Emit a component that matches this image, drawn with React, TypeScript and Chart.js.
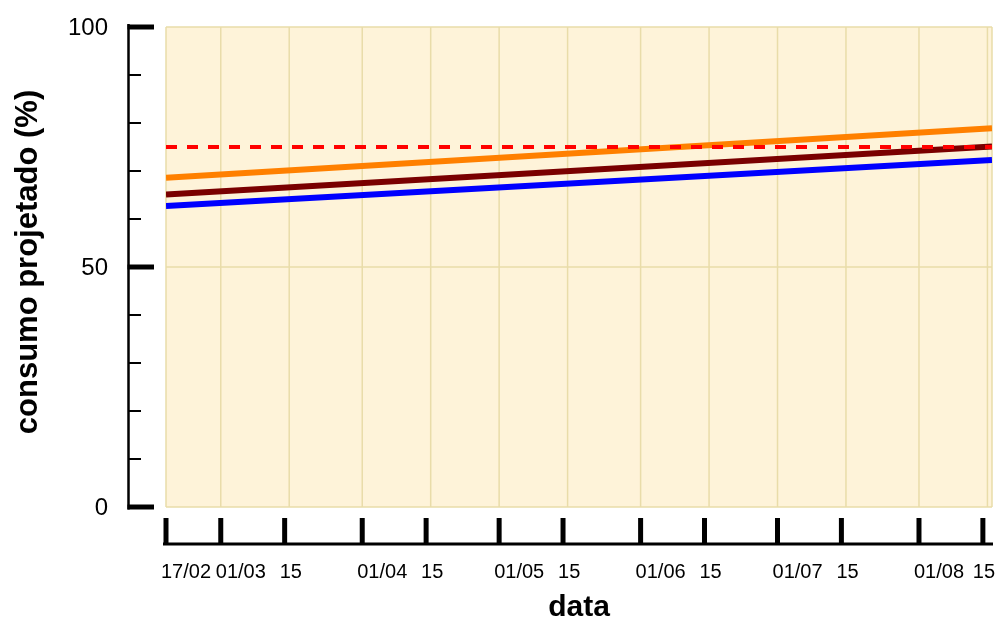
import React, { useEffect, useRef } from "react";
import { Chart, registerables } from "chart.js";

Chart.register(...registerables);

// Days counted from 17/02
const tickDays = [0, 12, 26, 43, 57, 73, 87, 104, 118, 134, 148, 165, 179];
const tickLabels = ["17/02", "01/03", "15", "01/04", "15", "01/05", "15", "01/06", "15", "01/07", "15", "01/08", "15"];
const gridDays = [0, 12, 27, 43, 58, 73, 88, 104, 119, 134, 149, 165, 180, 181];
const xMin = 0;
const xMax = 181;

const yMajor = [0, 50, 100];
const yMinor = [10, 20, 30, 40, 60, 70, 80, 90];

const lineDays = [0, 181];
const orangeValues = [68.6, 78.9];
const maroonValues = [65.1, 75.1];
const blueValues = [62.7, 72.3];
const limitValues = [75, 75];

const FONT = "'Liberation Sans', Arial, Helvetica, sans-serif";

const pts = (vals: number[]) => vals.map((v, i) => ({ x: lineDays[i], y: v }));

const customAxes = {
  id: "customAxes",
  beforeDatasetsDraw(chart: any) {
    const { ctx, chartArea: a, scales } = chart;
    const xs = scales.x;
    const ys = scales.y;
    ctx.save();
    ctx.fillStyle = "#fef3d9";
    ctx.fillRect(a.left, a.top, a.right - a.left, a.bottom - a.top);
    ctx.strokeStyle = "#e9dca9";
    ctx.lineWidth = 1.5;
    for (const d of gridDays) {
      const x = xs.getPixelForValue(d);
      ctx.beginPath();
      ctx.moveTo(x, a.top);
      ctx.lineTo(x, a.bottom);
      ctx.stroke();
    }
    for (const v of yMajor) {
      const y = ys.getPixelForValue(v);
      ctx.beginPath();
      ctx.moveTo(a.left, y);
      ctx.lineTo(a.right, y);
      ctx.stroke();
    }
    ctx.restore();
  },
  afterDraw(chart: any) {
    const { ctx, chartArea: a, scales } = chart;
    const xs = scales.x;
    const ys = scales.y;
    ctx.save();
    ctx.strokeStyle = "#000";
    ctx.fillStyle = "#000";
    // Y axis
    const axX = 128.5;
    const yTop = ys.getPixelForValue(100);
    const yBot = ys.getPixelForValue(0);
    ctx.lineWidth = 2.5;
    ctx.beginPath();
    ctx.moveTo(axX, yTop - 3);
    ctx.lineTo(axX, yBot + 2.5);
    ctx.stroke();
    ctx.lineWidth = 5;
    for (const v of yMajor) {
      const y = ys.getPixelForValue(v);
      ctx.beginPath();
      ctx.moveTo(axX - 1, y);
      ctx.lineTo(154, y);
      ctx.stroke();
    }
    ctx.lineWidth = 2;
    for (const v of yMinor) {
      const y = ys.getPixelForValue(v);
      ctx.beginPath();
      ctx.moveTo(axX, y);
      ctx.lineTo(141, y);
      ctx.stroke();
    }
    ctx.font = `24px ${FONT}`;
    ctx.textAlign = "right";
    ctx.textBaseline = "middle";
    for (const v of yMajor) {
      ctx.fillText(String(v), 108, ys.getPixelForValue(v) + 1);
    }
    // X axis
    const axY = 544;
    ctx.lineWidth = 3;
    ctx.beginPath();
    ctx.moveTo(xs.getPixelForValue(xMin) - 3, axY);
    ctx.lineTo(xs.getPixelForValue(xMax) + 1, axY);
    ctx.stroke();
    ctx.lineWidth = 5;
    tickDays.forEach((d) => {
      const x = xs.getPixelForValue(d);
      ctx.beginPath();
      ctx.moveTo(x, 518);
      ctx.lineTo(x, axY);
      ctx.stroke();
    });
    ctx.font = `20px ${FONT}`;
    ctx.textAlign = "left";
    ctx.textBaseline = "middle";
    tickDays.forEach((d, i) => {
      const x = xs.getPixelForValue(d);
      const label = tickLabels[i];
      const w = ctx.measureText(label).width;
      let lx = x - 5;
      if (lx + w > 995) lx = 995 - w;
      ctx.fillText(label, lx, 572);
    });
    // Titles
    ctx.font = `bold 30px ${FONT}`;
    ctx.textAlign = "center";
    ctx.textBaseline = "middle";
    ctx.fillText("data", (a.left + a.right) / 2, 608);
    ctx.save();
    ctx.translate(28, 262);
    ctx.rotate(-Math.PI / 2);
    ctx.font = `bold 31px ${FONT}`;
    ctx.fillText("consumo projetado (%)", 0, 0);
    ctx.restore();
    ctx.restore();
  },
};

export default function App() {
  const ref = useRef<HTMLCanvasElement | null>(null);
  useEffect(() => {
    if (!ref.current) return;
    const chart = new Chart(ref.current, {
      type: "line",
      data: {
        datasets: [
          {
            label: "limite",
            data: pts(limitValues),
            borderColor: "#ff0000",
            borderWidth: 4,
            borderDash: [11, 10],
            pointRadius: 0,
            fill: false,
          },
          {
            label: "azul",
            data: pts(blueValues),
            borderColor: "#0000ff",
            borderWidth: 6,
            pointRadius: 0,
            fill: false,
          },
          {
            label: "bordô",
            data: pts(maroonValues),
            borderColor: "#7a0000",
            borderWidth: 6,
            pointRadius: 0,
            fill: false,
          },
          {
            label: "laranja",
            data: pts(orangeValues),
            borderColor: "#ff8000",
            borderWidth: 6,
            pointRadius: 0,
            fill: false,
          },
        ],
      },
      options: {
        animation: false,
        responsive: false,
        devicePixelRatio: 1,
        layout: { padding: { left: 166, right: 13, top: 27, bottom: 117 } },
        plugins: { legend: { display: false }, tooltip: { enabled: false } },
        scales: {
          x: { type: "linear", min: xMin, max: xMax, display: false },
          y: { type: "linear", min: 0, max: 100, display: false },
        },
      },
      plugins: [customAxes],
    } as any);
    return () => chart.destroy();
  }, []);
  return (
    <div style={{ position: "fixed", left: 0, top: 0, width: 1005, height: 624, background: "#fff" }}>
      <canvas ref={ref} width={1005} height={624} style={{ display: "block" }} />
    </div>
  );
}
